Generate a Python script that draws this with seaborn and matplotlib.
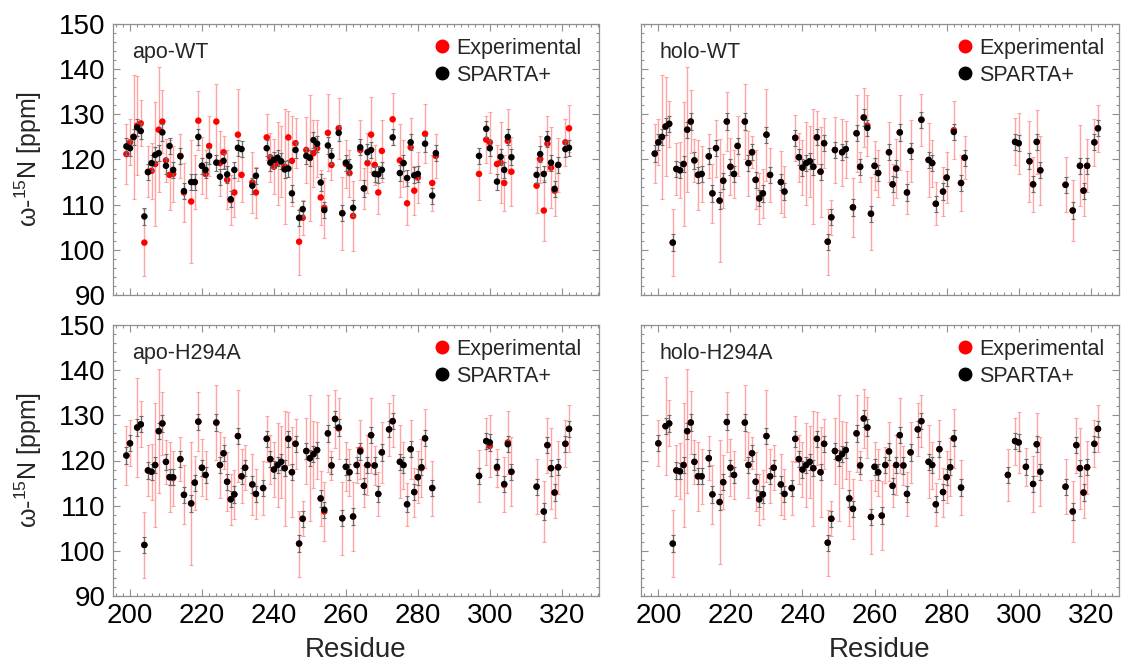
import numpy as np
import pandas as pd
import matplotlib
matplotlib.use("Agg")
import matplotlib.pyplot as plt
import seaborn as sns
from matplotlib.ticker import MultipleLocator
from matplotlib.lines import Line2D

# ---------------- data ----------------
# experimental error half-widths per residue (ppm)
err_res = [199, 200, 201, 202, 203, 204, 205, 206, 207, 208, 209, 210, 211, 212, 214, 215, 216, 217, 218, 219,
           220, 221, 222, 224, 225, 226, 227, 228, 229, 230, 231, 232, 234, 235, 237, 238, 239, 240, 241, 242,
           243, 244, 245, 246, 247, 248, 249, 250, 251, 252, 253, 254, 255, 256, 257, 258, 259, 260, 261, 262,
           263, 264, 265, 266, 267, 268, 269, 270, 272, 273, 275, 276, 277, 278, 279, 280, 281, 282, 284, 285,
           297, 299, 300, 302, 303, 304, 305, 306, 313, 314, 315, 316, 317, 318, 319, 321, 322]
err_exp = [6.6, 5.1, 13.7, 10.9, 5.1, 7.4, 5.7, 6.2, 13.8, 13.8, 7.0, 4.8, 7.7, 6.1, 4.9, 6.5, 6.3, 13.7, 6.0, 6.6,
           6.3, 5.4, 6.6, 8.3, 7.2, 3.5, 6.5, 5.6, 5.5, 10.2, 6.0, 5.0, 6.8, 5.6, 5.9, 5.1, 5.4, 6.1, 9.2, 7.9,
           12.7, 5.9, 10.0, 5.5, 7.3, 3.9, 7.4, 14.0, 7.4, 6.3, 6.1, 6.6, 8.5, 3.3, 6.5, 6.8, 8.1, 5.4, 5.2, 7.7,
           4.0, 6.6, 4.6, 6.6, 8.3, 4.4, 4.8, 6.8, 5.9, 5.8, 8.1, 5.2, 4.8, 6.5, 5.4, 5.7, 6.4, 6.5, 6.1, 4.8,
           5.7, 5.2, 6.8, 4.2, 8.9, 6.1, 7.0, 7.6, 6.1, 5.2, 6.8, 6.1, 9.0, 5.7, 5.9, 5.2, 5.2]
sparta_err = 1.8

# apo-WT
apo_wt_res = [199, 200, 201, 202, 203, 204, 205, 206, 207, 208, 209, 210, 211, 212, 214, 215, 217, 218, 219, 220,
              221, 222, 224, 225, 226, 227, 228, 229, 230, 231, 234, 235, 238, 239, 240, 241, 242, 243, 244, 245,
              246, 247, 248, 249, 250, 251, 252, 253, 254, 255, 256, 258, 259, 260, 261, 262, 264, 265, 266, 267,
              268, 269, 270, 273, 275, 276, 277, 278, 279, 280, 282, 284, 285, 297, 299, 300, 302, 303, 304, 305,
              306, 313, 314, 315, 316, 317, 318, 319, 321, 322]
apo_wt_exp = [121.2, 123.8, 125.0, 127.5, 128.0, 101.6, 117.3, 117.5, 119.0, 126.6, 128.4, 119.8, 116.6, 116.8, 120.8,
              112.7, 110.7, 115.0, 128.6, 118.6, 116.8, 123.0, 128.4, 119.2, 121.6, 115.5, 111.0, 112.7, 125.5, 116.6,
              114.9, 112.7, 124.9, 120.5, 118.4, 119.2, 119.6, 118.4, 124.9, 119.7, 123.6, 101.8, 107.1, 122.1, 120.3,
              121.4, 122.5, 111.6, 109.3, 125.9, 118.8, 126.9, 108.1, 119.0, 117.0, 107.5, 122.1, 113.6, 119.2, 125.5,
              118.8, 112.7, 121.9, 128.9, 119.8, 119.2, 110.3, 122.7, 113.1, 116.0, 125.7, 114.8, 120.8, 116.8, 124.4,
              123.8, 119.0, 119.3, 114.8, 124.1, 117.3, 114.2, 120.1, 108.7, 123.5, 118.2, 113.1, 118.8, 123.8, 126.9]
apo_wt_spa = [122.9, 122.5, 125.0, 127.1, 126.3, 107.4, 117.2, 119.2, 121.0, 121.4, 126.0, 118.6, 123.0, 117.7, 120.7,
              113.0, 115.0, 115.0, 125.0, 118.6, 117.7, 120.8, 119.3, 116.2, 119.7, 116.7, 111.2, 117.7, 122.6, 122.3,
              114.2, 116.4, 122.5, 119.3, 119.9, 120.4, 119.6, 117.8, 118.0, 112.5, 122.1, 107.1, 109.0, 120.8, 120.4,
              124.3, 123.5, 114.9, 108.8, 123.1, 120.8, 125.9, 108.1, 119.3, 118.4, 109.3, 122.7, 113.6, 121.6, 122.1,
              116.8, 116.7, 117.7, 124.9, 117.0, 119.2, 115.9, 123.8, 116.5, 116.8, 123.5, 112.0, 121.4, 120.8, 126.8,
              122.5, 115.1, 120.6, 117.7, 125.0, 120.5, 116.6, 121.2, 116.8, 124.6, 119.3, 113.5, 118.8, 122.3, 122.6]

# holo-WT
holo_wt_res = [199, 200, 201, 202, 203, 204, 205, 206, 207, 208, 209, 210, 211, 212, 214, 215, 216, 217, 218, 219,
               220, 221, 222, 224, 225, 226, 227, 228, 229, 230, 231, 234, 235, 238, 239, 240, 241, 242, 243, 244,
               245, 246, 247, 248, 249, 251, 252, 254, 255, 256, 257, 258, 259, 260, 261, 264, 265, 266, 267, 269,
               270, 273, 275, 276, 277, 279, 280, 282, 284, 285, 299, 300, 303, 304, 305, 306, 313, 315, 317, 318,
               319, 321, 322]
holo_wt_spa = [121.3, 123.8, 125.0, 127.3, 127.9, 101.6, 117.9, 117.6, 119.0, 126.6, 128.4, 119.8, 116.6, 116.8, 120.7,
               112.5, 122.5, 110.9, 115.3, 128.4, 118.4, 116.8, 123.0, 128.4, 119.2, 121.6, 115.5, 111.4, 112.5, 125.5,
               116.6, 115.0, 112.9, 124.8, 120.5, 118.2, 119.2, 119.6, 118.4, 124.9, 117.3, 123.6, 101.8, 107.2, 122.1,
               121.6, 122.3, 109.4, 125.8, 118.4, 129.3, 127.0, 108.0, 118.6, 117.0, 121.6, 114.5, 118.0, 126.0, 112.7,
               121.9, 128.8, 119.9, 119.2, 110.2, 112.9, 116.0, 126.1, 114.8, 120.4, 123.9, 123.6, 119.6, 114.5, 123.9,
               117.6, 114.4, 108.7, 118.6, 113.1, 118.6, 123.8, 126.9]
holo_wt_exp = [121.3, 123.8, 125.0, 127.3, 127.9, 101.6, 117.9, 117.6, 119.0, 126.6, 128.4, 119.8, 116.6, 116.8, 120.7,
               112.5, 122.5, 110.9, 115.3, 128.4, 118.4, 116.8, 123.0, 128.4, 119.2, 121.6, 115.5, 111.4, 112.5, 125.5,
               116.6, 115.0, 112.9, 124.8, 120.5, 118.2, 119.2, 119.6, 118.4, 124.9, 117.3, 123.6, 101.8, 107.2, 122.1,
               121.6, 122.3, 109.4, 125.8, 118.4, 129.3, 127.5, 108.0, 118.6, 117.0, 121.6, 114.5, 118.0, 126.0, 112.7,
               121.9, 128.8, 119.9, 119.2, 110.2, 112.9, 116.0, 126.5, 114.8, 120.4, 123.9, 123.6, 119.6, 114.5, 123.9,
               117.6, 114.4, 108.7, 118.6, 113.1, 118.6, 123.8, 126.9]

# apo-H294A
apo_h_res = [199, 200, 202, 203, 204, 205, 206, 207, 208, 209, 210, 211, 212, 214, 215, 217, 218, 219, 220, 221,
             224, 225, 226, 227, 228, 229, 230, 231, 232, 234, 235, 237, 238, 239, 240, 241, 242, 243, 244, 245,
             246, 247, 248, 249, 250, 251, 252, 253, 254, 255, 256, 257, 258, 259, 260, 261, 262, 263, 264, 265,
             266, 267, 268, 269, 270, 272, 273, 275, 276, 277, 278, 279, 280, 281, 282, 284, 297, 299, 300, 302,
             304, 305, 306, 313, 315, 316, 317, 318, 319, 321, 322]
apo_h_spa = [121.1, 123.8, 127.3, 128.0, 101.3, 117.8, 117.5, 119.0, 126.5, 128.2, 119.7, 116.3, 116.3, 120.3, 112.4,
             110.5, 115.1, 128.6, 118.4, 116.8, 128.4, 119.0, 121.6, 115.3, 111.4, 112.5, 125.4, 116.5, 118.4, 114.7,
             112.6, 113.9, 124.8, 120.3, 118.0, 119.0, 119.7, 118.3, 124.8, 117.4, 123.7, 101.6, 107.1, 122.1, 120.5,
             121.4, 122.3, 111.6, 109.1, 126.0, 118.9, 129.2, 127.3, 107.2, 118.6, 117.4, 107.6, 119.0, 122.0, 114.4,
             119.0, 125.6, 118.9, 112.6, 121.8, 126.9, 128.7, 119.7, 119.0, 110.3, 122.5, 113.0, 116.3, 118.5, 124.9,
             113.9, 116.6, 124.3, 124.0, 118.6, 114.8, 123.6, 117.5, 114.2, 108.7, 123.4, 118.3, 112.9, 118.5, 123.7,
             127.0]
apo_h_exp = [121.1, 123.8, 127.3, 128.0, 101.3, 117.8, 117.5, 119.0, 126.5, 128.2, 119.7, 116.3, 116.1, 120.3, 112.4,
             110.5, 115.1, 128.6, 118.4, 116.8, 128.4, 119.0, 121.6, 115.3, 111.4, 112.5, 125.4, 116.5, 118.4, 114.7,
             112.6, 113.9, 124.8, 120.3, 118.0, 119.0, 119.7, 118.3, 124.8, 117.4, 123.7, 101.6, 107.1, 122.1, 120.5,
             121.4, 122.3, 111.6, 108.7, 126.0, 118.9, 129.2, 127.1, 107.2, 118.6, 117.4, 107.6, 119.0, 122.4, 114.4,
             119.0, 125.6, 118.9, 112.6, 121.8, 126.9, 128.7, 119.7, 119.0, 110.3, 122.5, 113.0, 116.3, 118.3, 124.9,
             113.9, 116.6, 124.3, 123.2, 118.3, 114.6, 124.0, 117.5, 114.2, 108.7, 123.4, 118.3, 112.9, 118.5, 123.7,
             127.0]

# holo-H294A
holo_h_res = [200, 202, 203, 204, 205, 206, 207, 208, 209, 210, 211, 212, 214, 215, 217, 218, 219, 220, 221,
              224, 225, 226, 227, 228, 229, 230, 231, 232, 234, 235, 237, 238, 239, 240, 241, 242, 243, 244, 245,
              246, 247, 248, 249, 250, 251, 252, 253, 254, 255, 256, 257, 258, 259, 260, 261, 262, 263, 264, 265,
              266, 267, 268, 269, 270, 272, 273, 275, 276, 277, 278, 279, 280, 281, 282, 284, 297, 299, 300, 302,
              304, 305, 306, 313, 315, 316, 317, 318, 319, 321, 322]
holo_h_spa = [123.8, 127.6, 128.2, 101.6, 117.8, 117.6, 119.0, 126.5, 128.4, 119.7, 116.5, 116.5, 120.5, 112.5,
              110.8, 115.2, 128.5, 118.4, 116.8, 128.4, 119.0, 121.6, 115.3, 111.4, 112.5, 125.4, 116.5, 118.4, 114.7,
              112.6, 113.9, 124.8, 120.3, 118.0, 119.0, 119.7, 118.3, 124.8, 117.4, 123.7, 101.8, 107.1, 122.1, 120.5,
              121.4, 122.3, 111.6, 109.3, 126.0, 118.9, 129.3, 127.3, 107.5, 118.6, 117.4, 107.8, 119.0, 122.0, 114.4,
              119.0, 125.6, 118.9, 112.6, 121.8, 126.9, 128.7, 119.7, 119.0, 110.3, 122.5, 113.0, 116.3, 118.5, 124.9,
              114.0, 116.8, 124.3, 124.0, 118.6, 114.8, 123.6, 117.5, 114.2, 108.7, 123.4, 118.3, 112.9, 118.5, 123.7,
              127.0]
holo_h_exp = list(holo_h_spa)

panels = [
    ("apo-WT", apo_wt_res, apo_wt_exp, apo_wt_spa),
    ("holo-WT", holo_wt_res, holo_wt_exp, holo_wt_spa),
    ("apo-H294A", apo_h_res, apo_h_exp, apo_h_spa),
    ("holo-H294A", holo_h_res, holo_h_exp, holo_h_spa),
]
x_ticks = [200, 220, 240, 260, 280, 300, 320]
y_ticks = [90, 100, 110, 120, 130, 140, 150]

# ---------------- style ----------------
sns.set_theme(style="white")
plt.rcParams["font.family"] = ["Liberation Sans", "DejaVu Sans"]
plt.rcParams["mathtext.fontset"] = "custom"
plt.rcParams["mathtext.rm"] = "Liberation Sans"
plt.rcParams["mathtext.it"] = "Liberation Sans:italic"

err_map = dict(zip(err_res, err_exp))
W, H = 1125, 665
fig = plt.figure(figsize=(W / 100, H / 100), dpi=100)

rects = [
    (112.7, 598.5, 24, 295, (195.2, 330.2)),
    (640.7, 1118.5, 24, 295, (195.1, 327.7)),
    (112.7, 598.5, 325, 596, (195.2, 330.2)),
    (640.7, 1118.5, 325, 596, (195.1, 327.7)),
]
frame_col = "#8f8f8f"
for i, ((title, res, exp, spa), (x0, x1, y0, y1, xl)) in enumerate(zip(panels, rects)):
    ax = fig.add_axes([x0 / W, 1 - y1 / H, (x1 - x0) / W, (y1 - y0) / H])
    df_exp = pd.DataFrame({"Residue": res, "shift": exp, "err": [err_map[r] for r in res]})
    df_spa = pd.DataFrame({"Residue": res, "shift": spa})

    ax.errorbar(df_exp["Residue"], df_exp["shift"], yerr=df_exp["err"], fmt="none",
                ecolor="#ffa3a3", elinewidth=1.0, capsize=1.6, capthick=0.8, zorder=1)
    sns.scatterplot(data=df_exp, x="Residue", y="shift", color="#ff0000", s=22,
                    edgecolor="none", linewidth=0, ax=ax, zorder=2, legend=False)
    ax.errorbar(df_spa["Residue"], df_spa["shift"], yerr=sparta_err, fmt="none",
                ecolor="#6a6a6a", elinewidth=0.9, capsize=1.6, capthick=0.8, zorder=3)
    sns.scatterplot(data=df_spa, x="Residue", y="shift", color="#000000", s=22,
                    edgecolor="none", linewidth=0, ax=ax, zorder=4, legend=False)

    ax.set_xlim(*xl)
    ax.set_ylim(90, 150)
    ax.set_xticks(x_ticks)
    ax.set_yticks(y_ticks)
    ax.xaxis.set_minor_locator(MultipleLocator(2))
    ax.yaxis.set_minor_locator(MultipleLocator(2))
    ax.tick_params(which="both", direction="in", top=True, right=True, bottom=True, left=True,
                   colors=frame_col, labelcolor="black", width=0.8)
    ax.tick_params(which="major", length=5, labelsize=20, pad=5)
    ax.tick_params(which="minor", length=2.5)
    for sp in ax.spines.values():
        sp.set_color(frame_col)
        sp.set_linewidth(0.9)

    ax.set_xlabel("")
    ax.set_ylabel("")
    if i < 2:
        ax.tick_params(labelbottom=False)
    else:
        ax.set_xlabel("Residue", fontsize=20)
        ax.xaxis.set_label_coords(0.5, -0.15)
    if i % 2 == 1:
        ax.tick_params(labelleft=False)
    else:
        ax.set_ylabel(r"ω-$^{15}$N [ppm]", fontsize=18)
        ax.yaxis.set_label_coords(-0.142, 0.5)

    ax.text(0.04, 0.893, title, transform=ax.transAxes, fontsize=15.5, va="center", ha="left")
    handles = [Line2D([], [], marker="o", ls="", color="#ff0000", markersize=9),
               Line2D([], [], marker="o", ls="", color="#000000", markersize=9)]
    ax.legend(handles, ["Experimental", "SPARTA+"], loc="upper left", bbox_to_anchor=(0.66, 0.95),
              frameon=False, fontsize=15.5, handlelength=0.8, handletextpad=0.27,
              labelspacing=0.28, borderpad=0, borderaxespad=0)

fig.savefig("out.png", dpi=100)
